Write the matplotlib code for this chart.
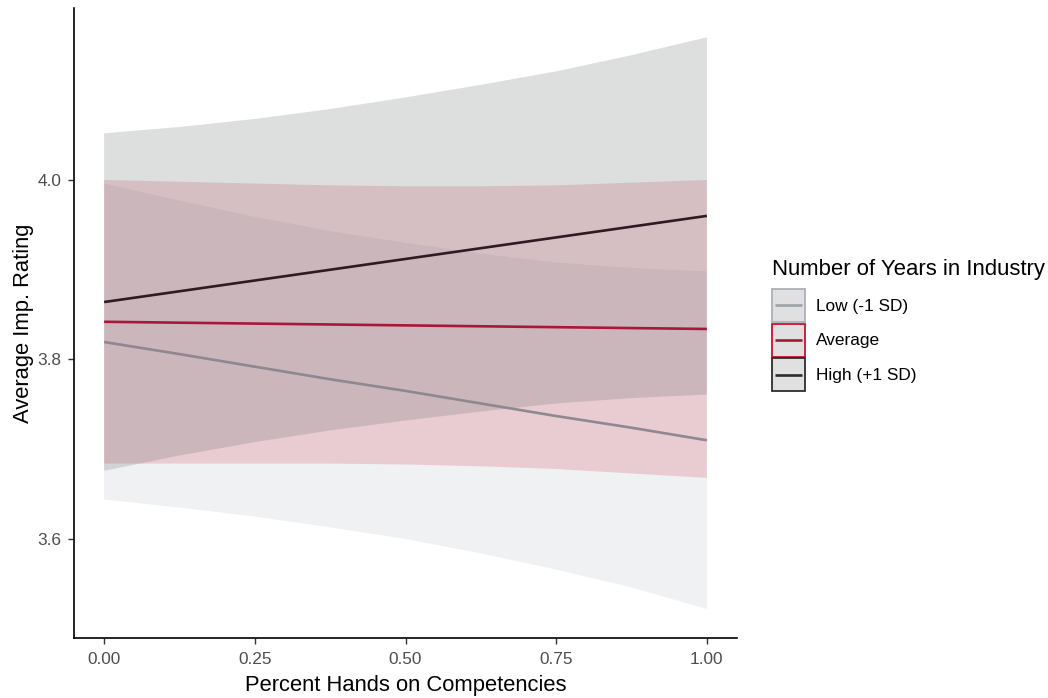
import matplotlib
matplotlib.use("Agg")
import matplotlib.pyplot as plt
from matplotlib.patches import Patch, Rectangle
from matplotlib.lines import Line2D
from matplotlib.legend_handler import HandlerBase

plt.rcParams['font.family'] = ['Liberation Sans', 'DejaVu Sans']

# Simple-slope predictions with 95% confidence bands
pct_hands_on = [0.000, 0.125, 0.250, 0.375, 0.500, 0.625, 0.750, 0.875, 1.000]

low_fit = [3.8195, 3.806, 3.792, 3.778, 3.765, 3.751, 3.737, 3.724, 3.710]
low_lower = [3.644, 3.635, 3.625, 3.613, 3.600, 3.584, 3.566, 3.546, 3.522]
low_upper = [3.996, 3.977, 3.959, 3.943, 3.930, 3.918, 3.908, 3.902, 3.898]

avg_fit = [3.842, 3.841, 3.840, 3.839, 3.838, 3.837, 3.836, 3.835, 3.834]
avg_lower = [3.684, 3.684, 3.684, 3.684, 3.683, 3.681, 3.678, 3.673, 3.668]
avg_upper = [4.000, 3.998, 3.996, 3.994, 3.993, 3.993, 3.994, 3.997, 4.000]

high_fit = [3.864, 3.876, 3.888, 3.900, 3.912, 3.924, 3.936, 3.948, 3.960]
high_lower = [3.676, 3.693, 3.708, 3.721, 3.732, 3.742, 3.751, 3.757, 3.761]
high_upper = [4.052, 4.059, 4.068, 4.079, 4.092, 4.106, 4.121, 4.139, 4.159]

group_labels = ["Low (-1 SD)", "Average", "High (+1 SD)"]
x_ticks = [0.00, 0.25, 0.50, 0.75, 1.00]
y_ticks = [3.6, 3.8, 4.0]

groups = [
    (low_fit, low_lower, low_upper),
    (avg_fit, avg_lower, avg_upper),
    (high_fit, high_lower, high_upper),
]
ribbon_fill = ["#b4b9c3", "#cd3c50", "#555f5f"]
line_color = ["#8e8890", "#a8183a", "#2e1c24"]
key_edge = ["#aab1b6", "#c8102e", "#2d2d2d"]
key_line = ["#9ea2a6", "#a6192e", "#2b2b2b"]


class RibbonKeyHandler(HandlerBase):
    """Legend key: filled box with a centred horizontal line."""

    def create_artists(self, legend, orig_handle, xdescent, ydescent,
                       width, height, fontsize, trans):
        patch, line = orig_handle
        x0, y0 = -xdescent, -ydescent
        box = Rectangle((x0, y0), width, height,
                        facecolor=patch.get_facecolor(),
                        edgecolor=patch.get_edgecolor(),
                        linewidth=patch.get_linewidth(), transform=trans)
        yc = y0 + height / 2
        inset = width * 0.1
        seg = Line2D([x0 + inset, x0 + width - inset], [yc, yc],
                     color=line.get_color(), linewidth=line.get_linewidth(),
                     solid_capstyle="butt", transform=trans)
        return [box, seg]


fig = plt.figure(figsize=(10.48, 6.98), dpi=100)
ax = fig.add_axes([74 / 1048, 1 - 638 / 698, (737 - 74) / 1048, (638 - 8) / 698])

for (fit, lo, hi), fc in zip(groups, ribbon_fill):
    ax.fill_between(pct_hands_on, lo, hi, facecolor=fc, alpha=0.2, linewidth=0, zorder=1)
for (fit, lo, hi), lc in zip(groups, line_color):
    ax.plot(pct_hands_on, fit, color=lc, linewidth=1.9, solid_capstyle='butt', zorder=3)

ax.set_xlim(-0.05, 1.05)
ax.set_ylim(3.4897, 4.1916)
ax.set_xticks(x_ticks)
ax.set_xticklabels([f"{v:.2f}" for v in x_ticks])
ax.set_yticks(y_ticks)
ax.set_yticklabels([f"{v:.1f}" for v in y_ticks])

for side in ["top", "right"]:
    ax.spines[side].set_visible(False)
for side in ["left", "bottom"]:
    ax.spines[side].set_color("black")
    ax.spines[side].set_linewidth(1.2)

ax.tick_params(axis="both", direction="out", length=4, width=1.0, color="#333333",
               labelsize=12.4, labelcolor="#4d4d4d")
ax.tick_params(axis="x", pad=6)
ax.tick_params(axis="y", pad=5)

ax.set_xlabel("Percent Hands on Competencies", fontsize=15.8, color="black", va="center")
ax.set_ylabel("Average Imp. Rating", fontsize=15.8, color="black", va="center")
ax.xaxis.set_label_coords(0.5, (638 - 685) / 630)
ax.yaxis.set_label_coords((24 - 74) / 663, 0.5)

handles = []
for ec, kl in zip(key_edge, key_line):
    handles.append((Patch(facecolor="#e0e0e0", edgecolor=ec, linewidth=1.3),
                    Line2D([], [], color=kl, linewidth=1.9)))

fig.text(772 / 1048, 1 - 269 / 698, "Number of Years in Industry",
         fontsize=15.9, color="black", ha="left", va="center")

leg = fig.legend(handles, group_labels,
                 handler_map={tuple: RibbonKeyHandler()},
                 loc="upper left", bbox_to_anchor=(772 / 1048, 1 - 289 / 698),
                 frameon=False, fontsize=12.4,
                 handlelength=1.92, handleheight=2.57, labelspacing=0.1,
                 handletextpad=0.65, borderpad=0, borderaxespad=0)

fig.savefig("out.png", dpi=100, facecolor="white")
